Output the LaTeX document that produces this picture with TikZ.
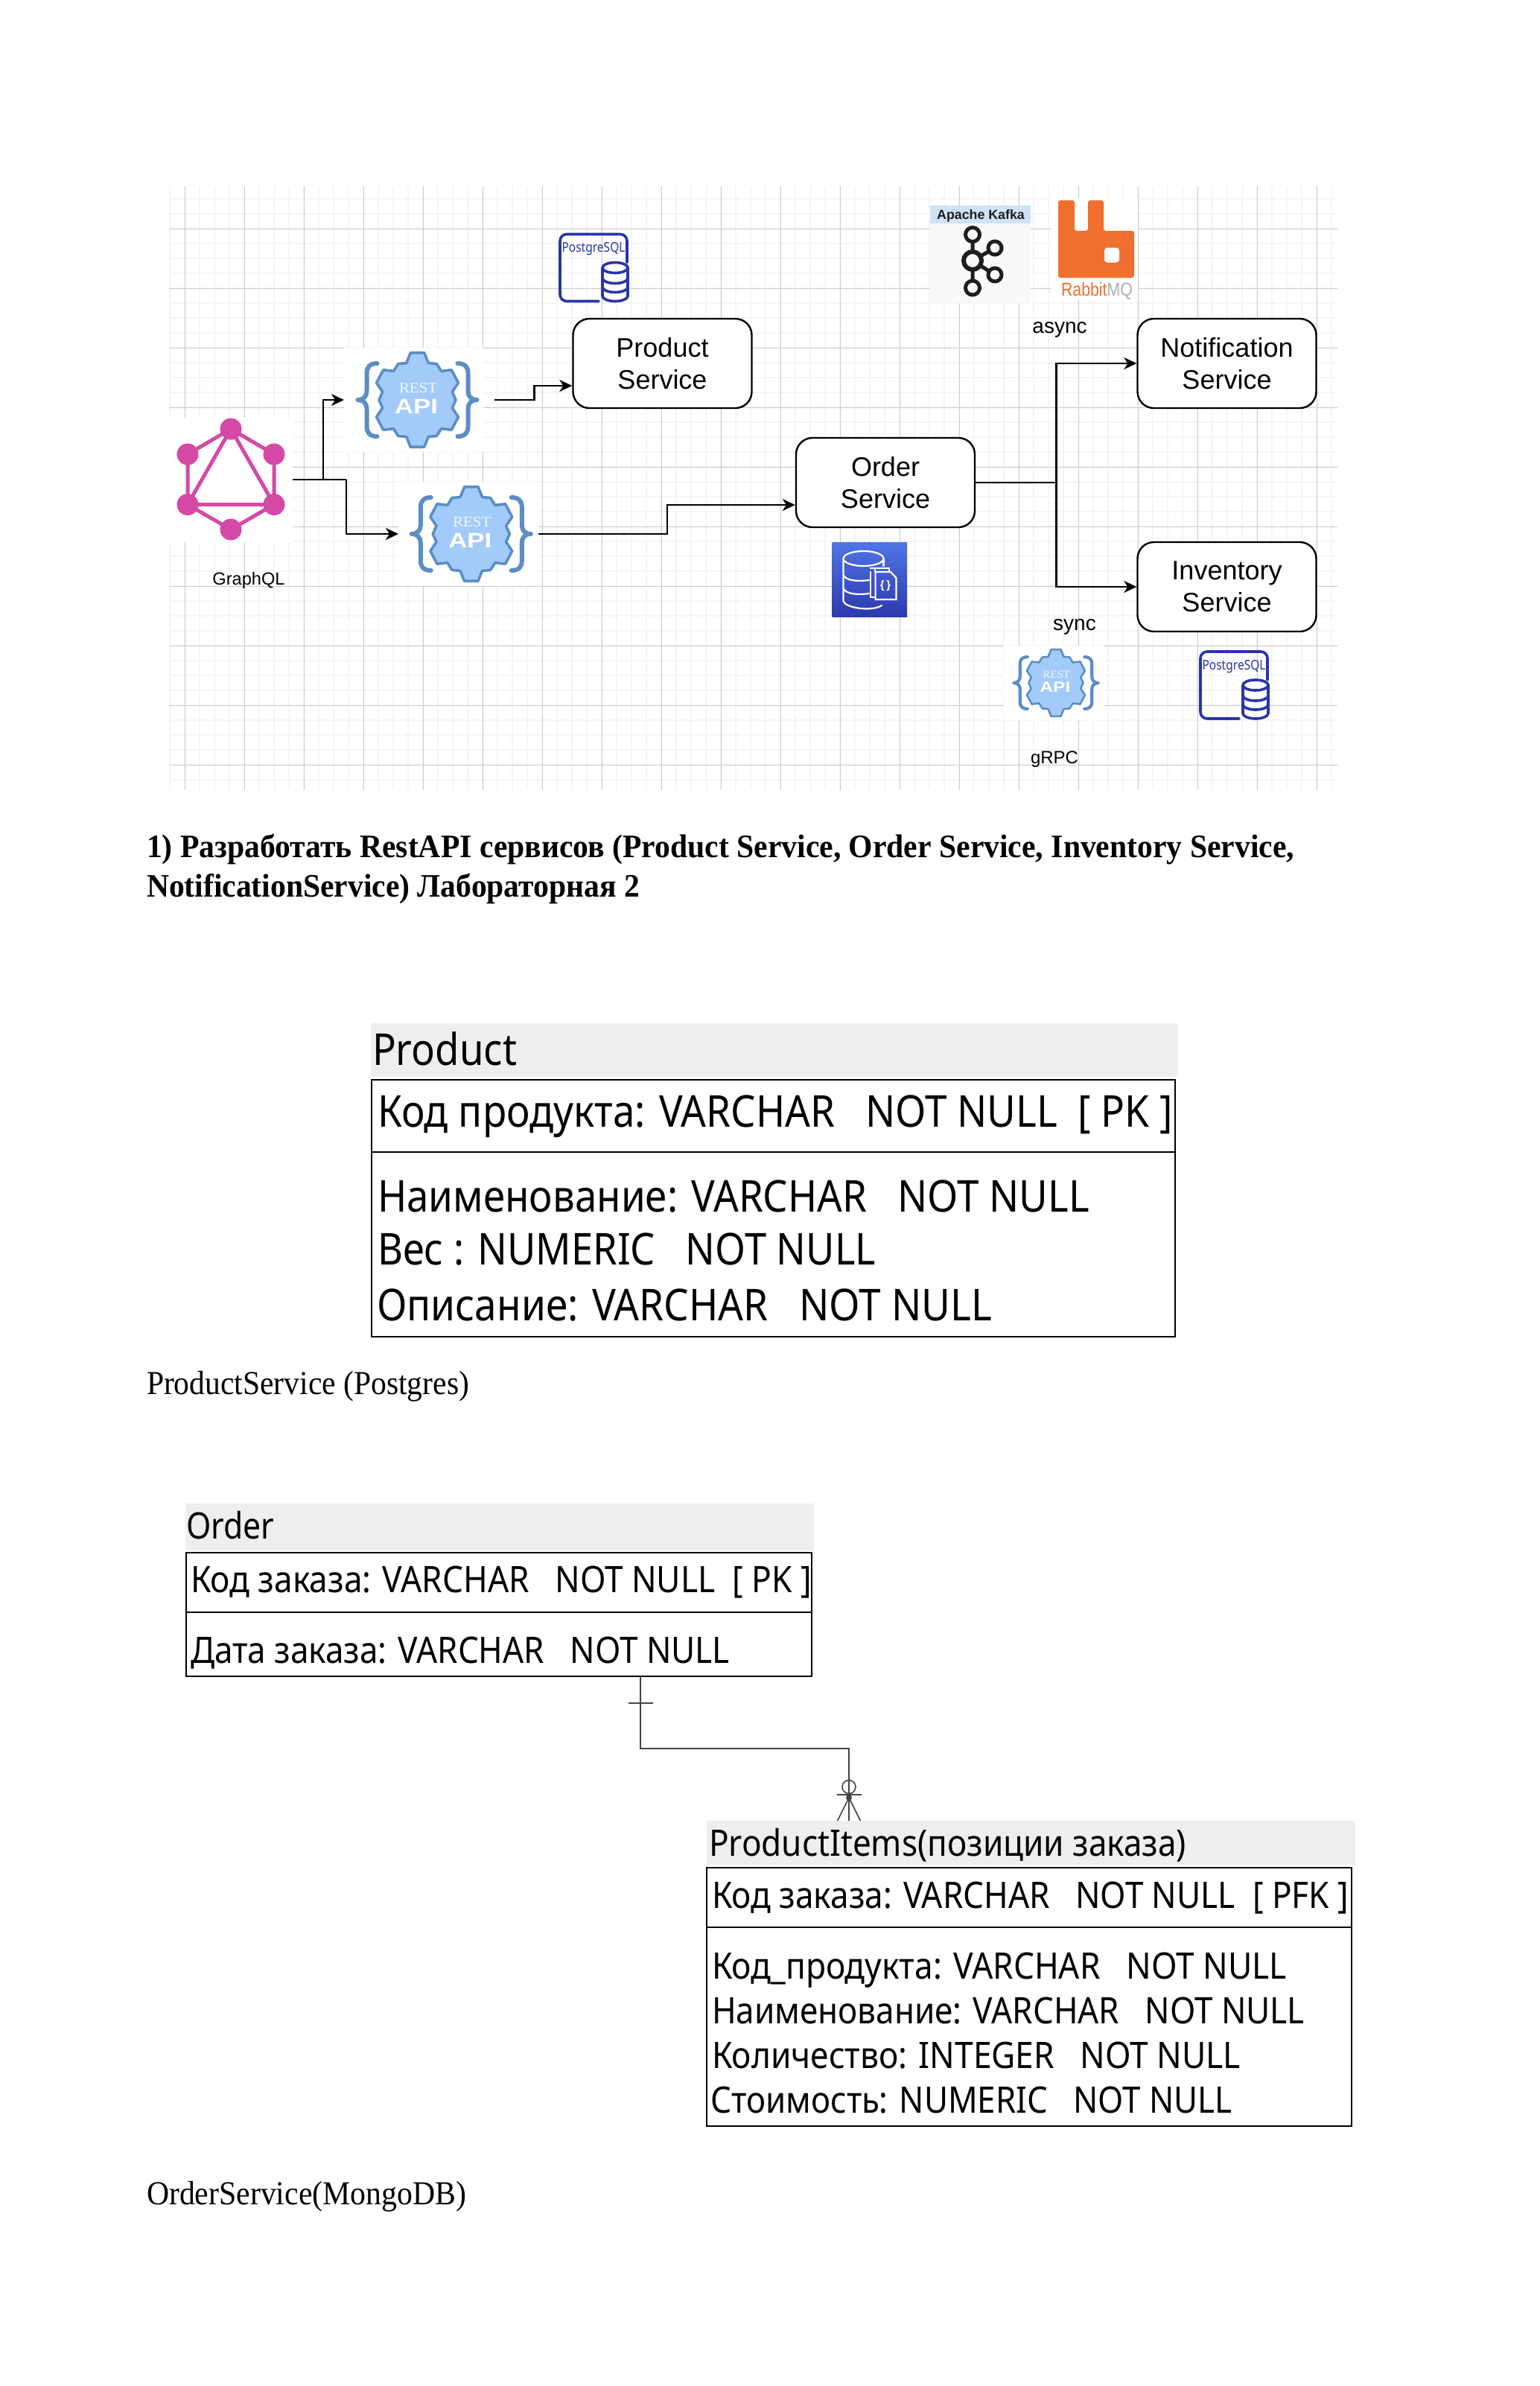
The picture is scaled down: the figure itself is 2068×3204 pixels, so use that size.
\documentclass[tikz,border=0pt]{standalone}
\usepackage{graphicx}
\usepackage{fontspec}
\setmainfont{Liberation Sans}
\newfontfamily\lserif{Liberation Serif}
\newfontfamily\nsans{Noto Sans}
\usetikzlibrary{arrows.meta,calc}
\definecolor{gmajor}{HTML}{CCCCCC}
\definecolor{gminor}{HTML}{F5F5F5}
\definecolor{gqlpink}{HTML}{D549A6}
\definecolor{gearfill}{HTML}{A3CBF9}
\definecolor{gearline}{HTML}{5B8EC4}
\definecolor{pgblue}{HTML}{2A35A8}
\definecolor{rabbit}{HTML}{F06F2E}
\definecolor{mqgrey}{HTML}{A8B0AD}
\definecolor{kafkabg}{HTML}{F7F9FB}
\definecolor{kafkahd}{HTML}{CFE2F8}
\definecolor{kafkaink}{HTML}{1E1E1E}
\definecolor{dbtop}{HTML}{4F76E6}
\definecolor{dbbot}{HTML}{2D38AE}
\definecolor{hdrgrey}{HTML}{EEEEEE}
\definecolor{erline}{HTML}{444444}
\newsavebox\fitbox
\newcommand\fitw[3]{\sbox\fitbox{\fontsize{#2}{#2}\selectfont #3}\pgfmathsetmacro\fitr{#1/\the\wd\fitbox}\scalebox{\fitr}[1]{\usebox\fitbox}}
\tikzset{
  svc/.style={draw=black,line width=2.4pt,rounded corners=22pt,fill=white,minimum width=240pt,minimum height=120pt,align=center,inner sep=0pt,font=\fontsize{36}{43}\selectfont},
  lbl/.style={inner sep=0pt,outer sep=0pt},
  tx/.style={anchor=base west,inner sep=0pt,outer sep=0pt},
  conn/.style={draw=black,line width=2.2pt},
  arr/.style={conn,-{Stealth[length=17pt,width=16pt,inset=5pt]}},
  bgbox/.style={fill=white,inner sep=0pt,outer sep=0pt},
  hdrbox/.style={fill=hdrgrey,inner sep=0pt,outer sep=0pt,anchor=north west},
  tblbox/.style={draw=black,line width=2.4pt,inner sep=0pt,outer sep=0pt,anchor=north west},
  ersty/.style={draw=erline,line width=1.6pt},
  pgline/.style={draw=pgblue,line width=3.6pt,line cap=round},
}
\newcommand\tblrow[6]{\node[tx] (#1) at (#2,#3) {\fitw{#4}{#5}{\nsans #6}};}
\newcommand\resticon[4]{%
  \begin{scope}[shift={(#2,#3)},scale=#4,transform shape]
    \begin{scope}[xscale=.92]
    \draw[draw=gearline,fill=gearfill,line width=#4*3.6pt,line join=round] (108:52)
      foreach \a in {90,30,-30,-90,-150,-210} { -- ({\a+18}:52) -- ({\a+9}:64) -- ({\a-9}:64) -- ({\a-18}:52) -- ({\a-30}:56) } -- cycle;
    \end{scope}
    \draw[draw=gearline,line width=#4*6pt,line cap=round,line join=round] (-54,-49) .. controls (-64,-49) and (-68,-44) .. (-68,-36) -- (-68,-12) .. controls (-68,-5) and (-72,0) .. (-80,0) .. controls (-72,0) and (-68,5) .. (-68,12) -- (-68,36) .. controls (-68,44) and (-64,49) .. (-54,49);
    \draw[draw=gearline,line width=#4*6pt,line cap=round,line join=round] (54,-49) .. controls (64,-49) and (68,-44) .. (68,-36) -- (68,-12) .. controls (68,-5) and (72,0) .. (80,0) .. controls (72,0) and (68,5) .. (68,12) -- (68,36) .. controls (68,44) and (64,49) .. (54,49);
    \node[anchor=base,inner sep=0pt,text=white!85!gearfill] (#1rest) at (1,-9.5) {\fitw{51}{20}{\lserif REST}};
    \node[anchor=base,inner sep=0pt,text=white] (#1api) at (-1.5,18) {\fitw{58}{28}{\bfseries API}};
  \end{scope}}
\newcommand\pgicon[3]{%
  \begin{scope}[shift={(#2,#3)}]
    \draw[pgline,rounded corners=9pt] (54,92) -- (2,92) -- (2,2) -- (92,2) -- (92,40);
    \node[anchor=base,inner sep=0pt,text=pgblue] (#1txt) at (47,26) {\fitw{85}{18}{\nsans PostgreSQL}};
    \draw[pgline,fill=white] (59,47) -- (59,85) arc[start angle=180,end angle=0,x radius=17,y radius=7] -- (93,47);
    \draw[pgline,fill=white] (76,47) ellipse[x radius=17,y radius=7];
    \draw[pgline] (59,61) arc[start angle=180,end angle=0,x radius=17,y radius=7];
    \draw[pgline] (59,73) arc[start angle=180,end angle=0,x radius=17,y radius=7];
  \end{scope}}
\begin{document}
\begin{tikzpicture}[x=1pt,y=-1pt]
\useasboundingbox (0,0) rectangle (2068,3204);
\fill[white] (0,0) rectangle (2068,3204);
% grid
\foreach \k in {0,...,78} {\draw[gminor,line width=2pt] ({228+20*\k},250) -- ({228+20*\k},1061);}
\foreach \k in {0,...,39} {\draw[gminor,line width=2pt] (227,{267+20*\k}) -- (1796,{267+20*\k});}
\foreach \k in {0,...,19} {\draw[gmajor,line width=1pt] ({248+80*\k},250) -- ({248+80*\k},1061);}
\foreach \k in {0,...,9} {\draw[gmajor,line width=1pt] (227,{307+80*\k}) -- (1796,{307+80*\k});}
% icon backgrounds
\node[bgbox,minimum width=166pt,minimum height=166.5pt] (gql) at (310,644.25) {};
\node[bgbox,minimum width=187pt,minimum height=140pt] (r1) at (555.5,537) {};
\node[bgbox,minimum width=188pt,minimum height=140pt] (r2) at (629,717) {};
\node[bgbox,minimum width=135pt,minimum height=100pt] (r3) at (1415.5,917) {};
\node[bgbox,minimum width=116pt,minimum height=136pt] (rmq) at (1470,334) {};
\node[fill=kafkabg,inner sep=0pt,outer sep=0pt,minimum width=135pt,minimum height=131.5pt] (kaf) at (1316.5,341.25) {};
% GraphQL logo
\begin{scope}[gqlpink]
\draw[line width=5pt,line join=round] (310,576) -- (252,610) -- (252,677.5) -- (310,711) -- (368,677.5) -- (368,610) -- cycle;
\draw[line width=5pt,line join=round] (310,576) -- (252,677.5) -- (368,677.5) -- cycle;
\foreach \p in {(310,576),(252,610),(368,610),(252,677.5),(368,677.5),(310,711)} {\fill \p circle[radius=14.5];}
\end{scope}
\node[lbl] (gqlText) at (334,779) {\fontsize{23.6}{28}\selectfont GraphQL};
% REST icons
\resticon{ra}{560.5}{537}{1}
\resticon{rb}{632.8}{717}{1}
\resticon{rc}{1418}{917}{.71}
% postgres
\pgicon{pa}{750}{312.5}
\pgicon{pb}{1610}{873}
% services
\node[svc] (product) at (889.5,488) {Product\\Service};
\node[svc] (order) at (1189,648) {Order\\Service};
\node[svc] (notif) at (1647.5,488) {Notification\\Service};
\node[svc] (invent) at (1647.5,788) {Inventory\\Service};
% connectors
\coordinate (jn1) at (434,644.25);
\coordinate (jn2) at (465,644.25);
\coordinate (r1o) at (664,537);
\coordinate (pinY) at (717.4,518);
\coordinate (oinY) at (896,678);
\coordinate (trunk) at (1418.5,648);
\draw[conn] (gql.east) -- (jn2);
\draw[arr] (jn1) |- (r1.west);
\draw[arr] (jn2) |- (r2.west);
\draw[arr] (r1o) -| (pinY) -- (pinY -| product.west);
\draw[arr] (r2.east) -| (oinY) -- (oinY -| order.west);
\draw[conn] (order.east) -- (trunk);
\draw[arr] (trunk) |- (notif.west);
\draw[arr] (trunk) |- (invent.west);
% Kafka
\fill[kafkahd] (1249,275.5) rectangle (1384,300);
\node[lbl,text=kafkaink] (kafText) at (1317,289.5) {\fontsize{17.8}{20}\selectfont\bfseries Apache Kafka};
\begin{scope}[kafkaink]
\draw[line width=5pt] (1306,315) -- (1306,386.5) (1306,350) -- (1336,333) (1306,350) -- (1336,369);
\draw[line width=5pt,fill=kafkabg] (1306,315) circle[radius=9.5] (1306,386.5) circle[radius=9.5] (1336,333) circle[radius=9] (1336,369) circle[radius=9];
\draw[line width=6pt,fill=kafkabg] (1306,350) circle[radius=12];
\end{scope}
% RabbitMQ
\begin{scope}[xshift=-3pt]
\fill[rabbit,rounded corners=3pt] (1424,269) -- (1446,269) -- (1446,310) -- (1464,310) -- (1464,269) -- (1485,269) -- (1485,310) -- (1526,310) -- (1526,373) -- (1424,373) -- cycle;
\fill[white,rounded corners=4pt] (1486,332.5) rectangle (1506,352.5);
\end{scope}
\node[tx] (rmqText) at (1425,397) {\fitw{96}{25}{\textcolor{rabbit}{Rabbit}\textcolor{mqgrey}{MQ}}};
% labels
\node[lbl] (async) at (1423,443) {\fontsize{28}{32}\selectfont async};
\node[lbl] (sync) at (1443,842) {\fontsize{28}{32}\selectfont sync};
\node[lbl] (grpc) at (1416,1020) {\fontsize{24}{28}\selectfont gRPC};
% Order db icon
\shade[top color=dbtop,bottom color=dbbot] (1117.5,728) rectangle (1218,828);
\begin{scope}[white,line width=2.2pt,line cap=round]
\draw (1159.5,750) ellipse[x radius=27,y radius=10];
\draw (1132.5,750) -- (1132.5,807) .. controls (1134,816) and (1170,822) .. (1184,813);
\draw (1186.5,750) -- (1186.5,760);
\draw (1132.5,772) .. controls (1136,780) and (1152,781) .. (1167,779);
\draw (1132.5,790) .. controls (1136,798) and (1152,799) .. (1167,797);
\draw (1175,768) -- (1175,763) -- (1194,763) -- (1194,768);
\draw (1169,768) -- (1169,802) -- (1175,802);
\draw (1169,763) -- (1175,763);
\draw (1175.6,768) -- (1196,768) -- (1203.4,776) -- (1203.4,805) -- (1175.6,805) -- cycle;
\end{scope}
\node[lbl,text=white] (dbBraces) at (1189,787) {\fontsize{15}{16}\selectfont\bfseries\{\,\}};
% paragraph text
\node[tx] (para1) at (197,1151) {\fitw{1541}{44}{\lserif\bfseries 1) Разработать RestAPI сервисов (Product Service, Order Service, Inventory Service,}};
\node[tx] (para2) at (197,1204) {\fitw{662}{44}{\lserif\bfseries NotificationService) Лабораторная 2}};
\node[tx] (cap1) at (197,1872) {\fitw{433}{45}{\lserif ProductService (Postgres)}};
\node[tx] (cap2) at (197,2960) {\fitw{429}{45}{\lserif OrderService(MongoDB)}};
% Product table
\node[hdrbox,minimum width=1084pt,minimum height=72pt] (prodHead) at (498,1374) {};
\node[tblbox,minimum width=1079pt,minimum height=345pt] (prodBody) at (499,1450) {};
\coordinate (prodDiv) at (499,1547);
\draw[line width=2.4pt] (prodDiv) -- (prodDiv -| prodBody.east);
\tblrow{pt0}{500}{1430}{194}{59}{Product}
\tblrow{pt1}{507}{1513}{1068}{59}{Код продукта: VARCHAR\ \ \ NOT NULL\ \ [ PK ]}
\tblrow{pt2}{507}{1627}{956}{59}{Наименование: VARCHAR\ \ \ NOT NULL}
\tblrow{pt3}{507}{1698}{669}{59}{Вес : NUMERIC\ \ \ NOT NULL}
\tblrow{pt4}{506}{1773}{826}{59}{Описание: VARCHAR\ \ \ NOT NULL}
% Order table
\node[hdrbox,minimum width=844pt,minimum height=63pt] (ordHead) at (249,2019) {};
\node[tblbox,minimum width=840pt,minimum height=166pt] (ordBody) at (250,2085) {};
\coordinate (ordDiv) at (250,2165);
\draw[line width=2.4pt] (ordDiv) -- (ordDiv -| ordBody.east);
\tblrow{ot0}{250}{2066}{118}{49}{Order}
\tblrow{ot1}{256}{2138}{834}{49}{Код заказа: VARCHAR\ \ \ NOT NULL\ \ [ PK ]}
\tblrow{ot2}{256}{2233}{724}{49}{Дата заказа: VARCHAR\ \ \ NOT NULL}
% ProductItems table
\node[hdrbox,minimum width=871pt,minimum height=59pt] (piHead) at (949,2445) {};
\node[tblbox,minimum width=866pt,minimum height=347pt] (piBody) at (949,2508) {};
\coordinate (piDiv) at (949,2588);
\draw[line width=2.4pt] (piDiv) -- (piDiv -| piBody.east);
\tblrow{it0}{952}{2492}{641}{49}{ProductItems(позиции заказа)}
\tblrow{it1}{956}{2562}{855}{49}{Код заказа: VARCHAR\ \ \ NOT NULL\ \ [ PFK ]}
\tblrow{it2}{956}{2657}{772}{49}{Код\_продукта: VARCHAR\ \ \ NOT NULL}
\tblrow{it3}{956}{2717}{796}{49}{Наименование: VARCHAR\ \ \ NOT NULL}
\tblrow{it4}{956}{2777}{710}{49}{Количество: INTEGER\ \ \ NOT NULL}
\tblrow{it5}{954.5}{2837}{700}{49}{Стоимость: NUMERIC\ \ \ NOT NULL}
% ER connector
\coordinate (erX) at (860,2348);
\coordinate (erY) at (1140,2348);
\coordinate (erTick) at (860,2287);
\coordinate (erCross) at (1140,2410);
\coordinate (erApex) at (1140,2414);
\draw[ersty] (ordBody.south -| erX) -- (erX) -- (erY) -- (erY |- piHead.north);
\draw[ersty] ($(erTick)+(-16.5,0)$) -- ($(erTick)+(16.5,0)$);
\draw[ersty] ($(erCross)+(-16.5,0)$) -- ($(erCross)+(16.5,0)$);
\draw[ersty] (1140,2399.5) ellipse[x radius=9,y radius=9];
\draw[ersty] (erApex) -- ($(erY |- piHead.north)+(-15.5,0)$);
\draw[ersty] (erApex) -- ($(erY |- piHead.north)+(15.5,0)$);
\fill[erline] (erApex) circle[radius=4];
\end{tikzpicture}
\end{document}
